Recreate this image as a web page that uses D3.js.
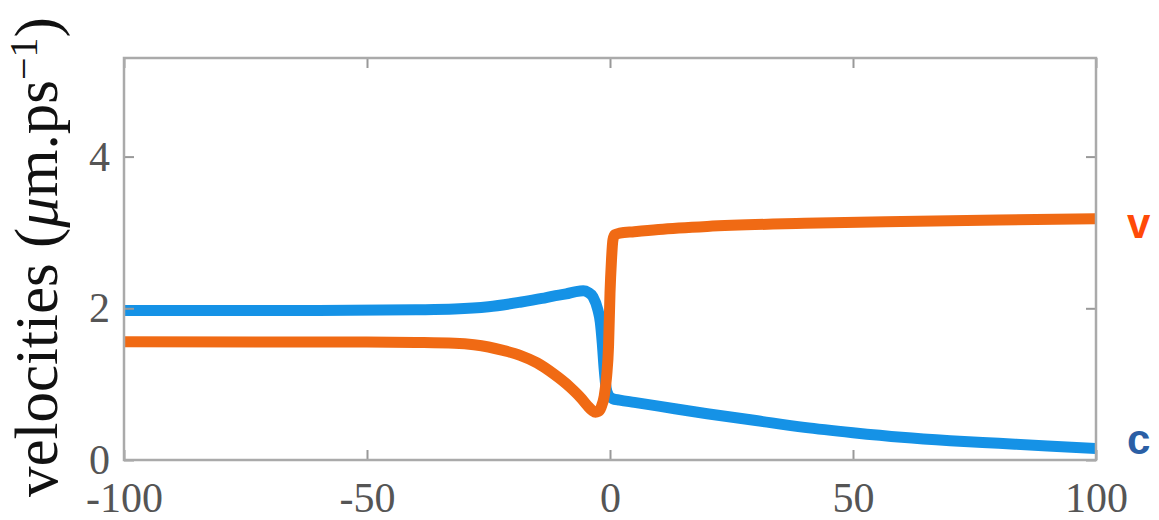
<!DOCTYPE html>
<html>
<head>
<meta charset="utf-8">
<script src="https://cdn.jsdelivr.net/npm/d3@7/dist/d3.min.js"></script>
<style>
  body { margin: 0; background: #fff; }
  svg { display: block; }
</style>
</head>
<body>
<svg id="chart" width="1159" height="520"></svg>
<script>
'use strict';

// distance (x) and velocity samples
const cX = [-100, -60, -40, -32, -25, -18.5, -14, -11.7, -9, -7, -5.5, -4.5, -3.5, -2.5, -2, -1.6, -1.2, -0.8, -0.3, 0.5, 2, 5, 10, 20, 30, 40, 50, 60, 70, 80, 90, 100];
const cY = [1.97, 1.97, 1.98, 1.99, 2.02, 2.08, 2.13, 2.16, 2.19, 2.22, 2.23, 2.21, 2.15, 1.98, 1.82, 1.55, 1.2, 0.95, 0.85, 0.81, 0.79, 0.76, 0.71, 0.61, 0.52, 0.43, 0.36, 0.3, 0.255, 0.22, 0.185, 0.15];

const vX = [-100, -50, -40, -32, -28, -25, -22, -18.5, -15, -11.7, -8.2, -6, -4.7, -3.6, -3, -2.4, -1.8, -1.2, -0.7, -0.3, 0, 0.3, 0.6, 1, 2, 5, 10, 20, 40, 60, 80, 100];
const vY = [1.56, 1.555, 1.55, 1.54, 1.52, 1.49, 1.445, 1.38, 1.28, 1.14, 0.96, 0.82, 0.72, 0.65, 0.63, 0.64, 0.7, 0.84, 1.1, 1.5, 2.2, 2.63, 2.9, 2.97, 2.99, 3.01, 3.04, 3.08, 3.12, 3.145, 3.165, 3.18];

const xTicks = [-100, -50, 0, 50, 100];
const yTicks = [0, 2, 4];

const series = [
  { key: 'v', xs: vX, ys: vY, color: '#f06a14', labelColor: '#ff4a08' },
  { key: 'c', xs: cX, ys: cY, color: '#1592e6', labelColor: '#2b5fa5' },
];

const m = { left: 124, right: 1096, top: 58, bottom: 460 };

const svg = d3.select('#chart');

const x = d3.scaleLinear().domain([-100, 100]).range([m.left, m.right]);
const y = d3.scaleLinear().domain([0, 5.3]).range([m.bottom, m.top]);

svg.append('clipPath')
  .attr('id', 'plot-clip')
  .append('rect')
  .attr('x', m.left)
  .attr('y', m.top)
  .attr('width', m.right - m.left)
  .attr('height', m.bottom - m.top);

const line = d3.line()
  .x((d) => x(d[0]))
  .y((d) => y(d[1]))
  .curve(d3.curveMonotoneX);

const plot = svg.append('g').attr('clip-path', 'url(#plot-clip)');

// blue first, orange over it
[series[1], series[0]].forEach((s) => {
  plot.append('path')
    .datum(s.xs.map((xv, i) => [xv, s.ys[i]]))
    .attr('fill', 'none')
    .attr('stroke', s.color)
    .attr('stroke-width', 11)
    .attr('stroke-linejoin', 'round')
    .attr('d', line);
});

const styleAxis = (g) => {
  g.select('.domain').remove();
  g.selectAll('.tick line').attr('stroke', '#999').attr('stroke-width', 2);
  g.selectAll('.tick text')
    .attr('fill', '#555')
    .attr('font-family', '"Liberation Serif", "DejaVu Serif", serif')
    .attr('font-size', 42);
};

svg.append('g')
  .attr('transform', `translate(0,${m.bottom})`)
  .call(d3.axisBottom(x).tickValues(xTicks).tickSize(-10).tickPadding(22).tickFormat((d) => String(d)))
  .call(styleAxis);

svg.append('g')
  .attr('transform', `translate(0,${m.top})`)
  .call(d3.axisTop(x).tickValues(xTicks).tickSize(-10).tickFormat(''))
  .call(styleAxis);

svg.append('g')
  .attr('transform', `translate(${m.left},0)`)
  .call(d3.axisLeft(y).tickValues(yTicks).tickSize(-10).tickPadding(14).tickFormat((d) => String(d)))
  .call(styleAxis);

svg.append('g')
  .attr('transform', `translate(${m.right},0)`)
  .call(d3.axisRight(y).tickValues(yTicks).tickSize(-10).tickFormat(''))
  .call(styleAxis);

// axes box
svg.append('rect')
  .attr('x', m.left)
  .attr('y', m.top)
  .attr('width', m.right - m.left)
  .attr('height', m.bottom - m.top)
  .attr('fill', 'none')
  .attr('stroke', '#aaa')
  .attr('stroke-width', 2.5);

// y label
const yl = svg.append('text')
  .attr('transform', 'translate(57,497) rotate(-90)')
  .attr('font-family', '"Liberation Serif", "DejaVu Serif", serif')
  .attr('font-size', 61)
  .attr('fill', '#111');
yl.append('tspan').text('velocities (');
yl.append('tspan').attr('font-style', 'italic').text('μ');
yl.append('tspan').text('m.ps');
yl.append('tspan').attr('font-size', 40).attr('dy', -20).text('−1');
yl.append('tspan').attr('dy', 20).text(')');

// series labels on the right
series.forEach((s) => {
  const last = s.ys[s.ys.length - 1];
  svg.append('text')
    .attr('x', 1127)
    .attr('y', s.key === 'v' ? y(last) + 19 : y(last) + 5)
    .attr('font-family', '"Liberation Sans", Arial, sans-serif')
    .attr('font-weight', 'bold')
    .attr('font-size', 42)
    .attr('fill', s.labelColor)
    .text(s.key);
});
</script>
</body>
</html>
